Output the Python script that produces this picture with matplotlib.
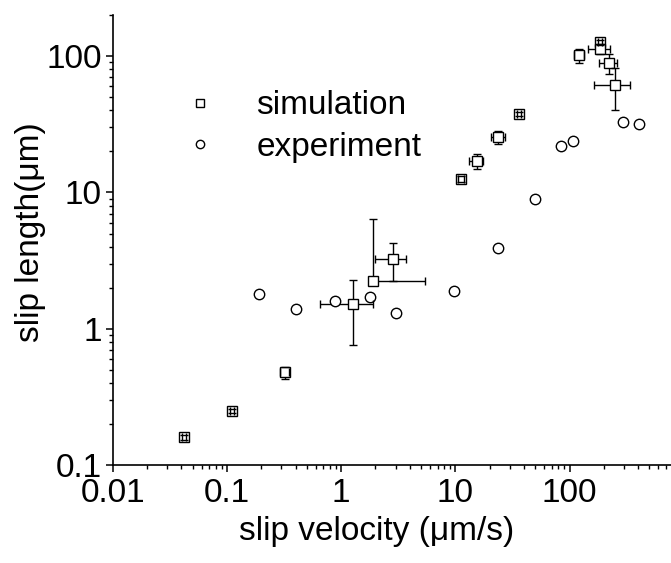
import numpy as np
import matplotlib
matplotlib.use("Agg")
import matplotlib.pyplot as plt
from matplotlib.ticker import FixedLocator, FixedFormatter, LogLocator, NullFormatter

# simulation points (slip velocity um/s, slip length um) with symmetric errors
sim_x = np.array([0.042, 0.11, 0.32, 1.28, 1.91, 2.83, 11.2, 15.4, 23.8, 36.3, 122, 185, 185, 220, 250])
sim_y = np.array([0.16, 0.25, 0.48, 1.52, 2.24, 3.25, 12.5, 17.0, 25.4, 37.6, 101, 127, 112, 89, 61])
sim_xerr = np.array([0.0017, 0.0045, 0.028, 0.63, 3.5, 0.85, 0.7, 2.1, 3.3, 1.5, 12.6, 7.5, 40, 38, 87])
sim_yerr = np.array([0.0055, 0.0085, 0.05, 0.76, 4.2, 1.0, 0.65, 2.1, 2.7, 1.3, 12, 4.3, 8, 15, 21])

# experiment points
exp_x = np.array([0.19, 0.40, 0.89, 1.8, 3.0, 9.8, 23.5, 50, 85, 108, 292, 408])
exp_y = np.array([1.8, 1.4, 1.6, 1.7, 1.3, 1.9, 3.9, 9.0, 22, 24, 33, 32])

x_ticks = [0.01, 0.1, 1, 10, 100]
x_tick_labels = ["0.01", "0.1", "1", "10", "100"]
y_ticks = [0.1, 1, 10, 100]
y_tick_labels = ["0.1", "1", "10", "100"]

plt.rcParams['font.family'] = ['Liberation Sans', 'DejaVu Sans']

fig = plt.figure(figsize=(6.71, 5.63), dpi=100)
ax = fig.add_axes([0.168, 0.1735, 0.832, 0.7999])
ax.set_xscale('log')
ax.set_yscale('log')
ax.set_xlim(0.01, 774)
ax.set_ylim(0.1, 200)

# error bars: bars under the markers, caps on top; lower side dropped if it goes below zero
lo_x = sim_x - sim_xerr
hi_x = sim_x + sim_xerr
lo_y = sim_y - sim_yerr
hi_y = sim_y + sim_yerr
okx = lo_x > 0
oky = lo_y > 0
ax.hlines(sim_y, np.where(okx, lo_x, sim_x), hi_x, color='k', lw=1, zorder=1)
ax.vlines(sim_x, np.where(oky, lo_y, sim_y), hi_y, color='k', lw=1, zorder=1)

ax.plot(sim_x, sim_y, 's', ms=7, mfc='white', mec='k', mew=1.0, zorder=2,
        linestyle='none', label='simulation')
ax.plot(exp_x, exp_y, 'o', ms=7.5, mfc='white', mec='k', mew=1.0, zorder=2,
        linestyle='none', label='experiment')

cap = 6
ax.plot(hi_x, sim_y, '|', ms=cap, color='k', mew=1, zorder=3)
ax.plot(lo_x[okx], sim_y[okx], '|', ms=cap, color='k', mew=1, zorder=3)
ax.plot(sim_x, hi_y, '_', ms=cap, color='k', mew=1, zorder=3)
ax.plot(sim_x[oky], lo_y[oky], '_', ms=cap, color='k', mew=1, zorder=3)

for side in ['top', 'right']:
    ax.spines[side].set_visible(False)
for side in ['left', 'bottom']:
    ax.spines[side].set_linewidth(1.2)

ax.xaxis.set_major_locator(FixedLocator(x_ticks))
ax.xaxis.set_major_formatter(FixedFormatter(x_tick_labels))
ax.yaxis.set_major_locator(FixedLocator(y_ticks))
ax.yaxis.set_major_formatter(FixedFormatter(y_tick_labels))
ax.xaxis.set_minor_locator(LogLocator(base=10, subs=np.arange(2, 10), numticks=20))
ax.yaxis.set_minor_locator(LogLocator(base=10, subs=np.arange(2, 10), numticks=20))
ax.xaxis.set_minor_formatter(NullFormatter())
ax.yaxis.set_minor_formatter(NullFormatter())
ax.tick_params(which='major', direction='out', length=5, width=1.1, labelsize=24, pad=3)
ax.tick_params(which='minor', direction='out', length=3, width=1.0)
ax.tick_params(axis='x', which='major', pad=4)

ax.set_xlabel('slip velocity (\u03bcm/s)', fontsize=24)
ax.set_ylabel('slip length(\u03bcm)', fontsize=24)
ax.xaxis.set_label_coords(0.473, -0.113)
ax.yaxis.set_label_coords(-0.12, 0.518)

ax.legend(loc='upper left', bbox_to_anchor=(0.126, 0.833), frameon=False, fontsize=24,
          markerscale=0.8, handlelength=1.0, handletextpad=1.2, labelspacing=0.32,
          borderpad=0, borderaxespad=0)

fig.savefig('out.png', dpi=100)
